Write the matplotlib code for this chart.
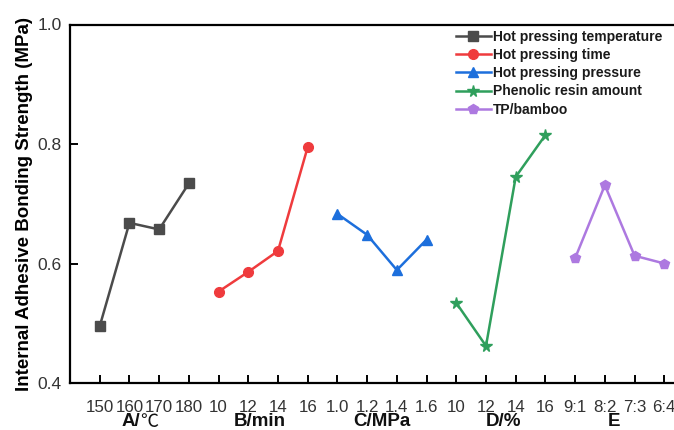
import matplotlib
matplotlib.use("Agg")
import matplotlib.pyplot as plt
import matplotlib.transforms as mtransforms

plt.rcParams['font.family'] = ['Liberation Sans', 'DejaVu Sans']

# Factor levels (tick labels) and group titles
tick_labels = ["150", "160", "170", "180",
               "10", "12", "14", "16",
               "1.0", "1.2", "1.4", "1.6",
               "10", "12", "14", "16",
               "9:1", "8:2", "7:3", "6:4"]
group_titles = ["A/", "B/min", "C/MPa", "D/%", "E"]
group_units = ["\u2103", "", "", "", ""]

# Mean internal bonding strength (MPa) per level
temperature = [0.495, 0.668, 0.657, 0.734]
press_time = [0.553, 0.586, 0.621, 0.795]
pressure = [0.683, 0.648, 0.589, 0.640]
resin = [0.534, 0.462, 0.745, 0.815]
tp_bamboo = [0.609, 0.731, 0.613, 0.600]

series_names = ["Hot pressing temperature", "Hot pressing time",
                "Hot pressing pressure", "Phenolic resin amount", "TP/bamboo"]
series_values = [temperature, press_time, pressure, resin, tp_bamboo]
colors = ["#4b4b4b", "#ef3b3d", "#1d6fdc", "#2f9f5c", "#ad79e0"]
markers = ["s", "o", "^", "*", "p"]
marker_sizes = [7, 7, 7, 8.5, 7.5]

fig = plt.figure(figsize=(6.74, 4.30), dpi=100)
W, H = 674, 430
left, right, top, bottom = 70, 694, 24.5, 383
ax = fig.add_axes([left / W, (H - bottom) / H, (right - left) / W, (bottom - top) / H])

for g, (name, vals) in enumerate(zip(series_names, series_values)):
    xs = [4 * g + i for i in range(len(vals))]
    ax.plot(xs, vals, color=colors[g], marker=markers[g], markersize=marker_sizes[g],
            linewidth=1.8, label=name)

ax.set_xlim(-1, 20)
ax.set_ylim(0.4, 1.0)
ax.set_yticks([0.4, 0.6, 0.8, 1.0])
ax.set_yticklabels(["0.4", "0.6", "0.8", "1.0"])
ax.set_xticks(range(len(tick_labels)))
ax.set_xticklabels(tick_labels)

for s in ax.spines.values():
    s.set_linewidth(1.6)
ax.tick_params(axis='both', direction='in', length=6, width=1.4,
               labelsize=12.5, labelcolor="#333333")
ax.tick_params(axis='x', pad=12, labelsize=12.2)
ax.tick_params(axis='y', pad=6)

ax.set_ylabel("Internal Adhesive Bonding Strength (MPa)", fontsize=13.5,
              fontweight='bold', labelpad=3)

# Group titles under the tick labels
trans = mtransforms.blended_transform_factory(ax.transData, fig.transFigure)
title_x = [1.2, 5.4, 9.5, 13.6, 17.3]
title_y = 1 - 422 / H
for title, unit, x in zip(group_titles, group_units, title_x):
    if unit:
        ax.text(x + 0.15, title_y, title, transform=trans, ha='right', va='center',
                fontsize=13.5, fontweight='bold', color="#111111")
        ax.text(x + 0.15, title_y, unit, transform=trans, ha='left', va='center',
                fontsize=13, family=['Noto Sans CJK SC', 'DejaVu Sans'],
                fontweight='light', color="#111111")
    else:
        ax.text(x, title_y, title, transform=trans, ha='center', va='center',
                fontsize=13.5, fontweight='bold', color="#111111")

leg = ax.legend(loc='upper left', bbox_to_anchor=(456 / W, 1 - 29.5 / H),
                bbox_transform=fig.transFigure, frameon=False,
                prop={'weight': 'bold', 'size': 10}, handlelength=2.5,
                handletextpad=0.15, labelspacing=0.31, borderpad=0, borderaxespad=0)
for t in leg.get_texts():
    t.set_color("#1a1a1a")

fig.savefig("out.png", dpi=100)
